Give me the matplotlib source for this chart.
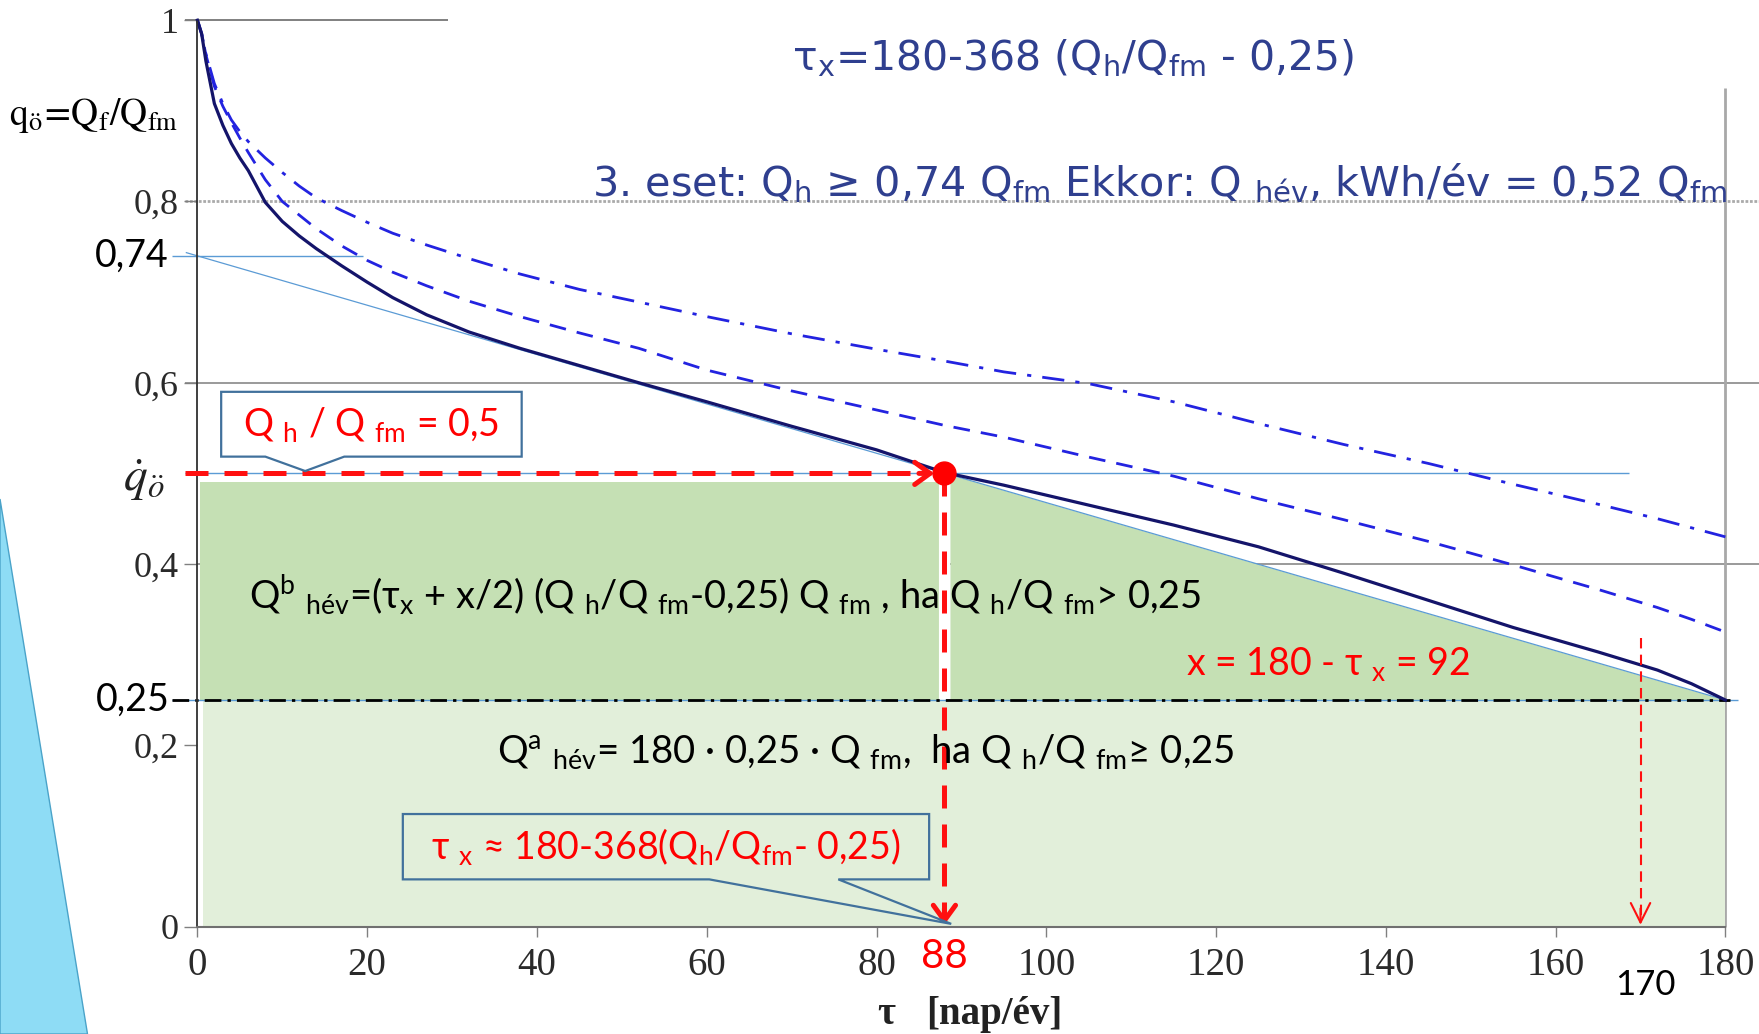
import numpy as np
import matplotlib
matplotlib.use("Agg")
import matplotlib.pyplot as plt
from matplotlib.patches import Polygon

# ---------------- data ----------------
tau = [0, 0.5, 1, 2, 3, 4, 5, 6, 8, 10, 12, 14, 17, 20, 23, 27, 32, 38, 45, 52,
       60, 70, 80, 88, 95, 105, 115, 125, 135, 145, 155, 165, 172, 176, 180]
q_solid = [1.0, 0.985, 0.955, 0.908, 0.884, 0.864, 0.848, 0.834, 0.799, 0.778,
           0.762, 0.748, 0.729, 0.711, 0.694, 0.675, 0.656, 0.638, 0.619, 0.600,
           0.579, 0.552, 0.526, 0.501, 0.487, 0.465, 0.443, 0.419, 0.390, 0.360,
           0.330, 0.303, 0.283, 0.268, 0.25]
q_dashed = [1.0, 0.985, 0.962, 0.927, 0.905, 0.887, 0.870, 0.854, 0.824, 0.800,
            0.785, 0.770, 0.751, 0.735, 0.722, 0.707, 0.690, 0.673, 0.655, 0.638,
            0.614, 0.591, 0.570, 0.553, 0.540, 0.518, 0.497, 0.472, 0.449, 0.425,
            0.399, 0.372, 0.352, 0.339, 0.325]
q_dashdot = [1.0, 0.985, 0.963, 0.930, 0.908, 0.890, 0.877, 0.866, 0.848, 0.832,
             0.817, 0.804, 0.790, 0.777, 0.765, 0.752, 0.737, 0.720, 0.703, 0.689,
             0.673, 0.654, 0.637, 0.624, 0.612, 0.599, 0.579, 0.555, 0.532, 0.511,
             0.488, 0.466, 0.450, 0.440, 0.430]

y_ticks = [0, 0.2, 0.4, 0.6, 0.8, 1.0]
y_tick_labels = ['0', '0,2', '0,4', '0,6', '0,8', '1']
x_ticks = [0, 20, 40, 60, 80, 100, 120, 140, 160, 180]
x_tick_labels = ['0', '20', '40', '60', '80', '100', '120', '140', '160', '180']

qh_ratio = 0.5      # Q_h / Q_fm
tau_x = 88          # tau_x
tau_max = 180
q_base = 0.25
q_start = 0.74
tau_mark = 170

# ---------------- style ----------------
plt.rcParams['mathtext.fontset'] = 'custom'
plt.rcParams['mathtext.rm'] = 'Lato'
plt.rcParams['mathtext.it'] = 'Lato:italic'
plt.rcParams['mathtext.bf'] = 'Lato:bold'

W, H = 1759, 1034
fig = plt.figure(figsize=(W / 100, H / 100), dpi=100)
fig.patch.set_facecolor('white')
ax = fig.add_axes([0, 0, 1, 1])
X0PX, X180PX = 197.4, 1725.4
Y0PX, Y1PX = 926.6, 20.2
sx = (X180PX - X0PX) / 180.0
sy = (Y0PX - Y1PX) / 1.0
ax.set_xlim(-X0PX / sx, (W - X0PX) / sx)
ax.set_ylim(-(H - Y0PX) / sy, Y0PX / sy)
ax.set_facecolor('white')

x_right = (W - X0PX) / sx

for s in ['top', 'right']:
    ax.spines[s].set_visible(False)
ax.spines['left'].set_position(('data', 0))
ax.spines['left'].set_bounds(0, 1)
ax.spines['left'].set_linestyle((0, (1.5, 1)))
ax.spines['left'].set_color('#303030')
ax.spines['left'].set_linewidth(1.3)
ax.spines['left'].set_zorder(4)
ax.spines['bottom'].set_position(('data', 0))
ax.spines['bottom'].set_bounds(0, 180)
ax.spines['bottom'].set_color('#707070')
ax.spines['bottom'].set_linewidth(1.5)
ax.spines['bottom'].set_zorder(4)

ax.set_yticks(y_ticks, y_tick_labels)
ax.set_xticks(x_ticks, x_tick_labels)
ax.tick_params(axis='y', direction='out', length=9.5, width=1, color='#808080',
               pad=4, labelsize=26, labelcolor='#2a2a2a',
               labelfontfamily='Liberation Serif')
ax.tick_params(axis='x', direction='out', length=7, width=1, color='#808080',
               pad=8, labelsize=28, labelcolor='#2a2a2a',
               labelfontfamily='Liberation Serif')

# grid-like lines
ax.hlines(1.0, -1.5, 29.5, color='#808080', lw=1.4, zorder=0.5)
ax.hlines(0.8, -1.5, x_right, color='#aaaaaa', lw=2.0, ls=(0, (1, 0.6)), zorder=0.5)
ax.hlines(0.6, -1.5, x_right, color='#9a9a9a', lw=1.4, zorder=0.5)
ax.hlines(0.4, 0, x_right, color='#9a9a9a', lw=1.4, zorder=0.5)
ax.vlines(tau_max, 0, 0.925, color='#a8a8a8', lw=2.0, zorder=0.5)

# green areas
ax.fill_between([0.7, tau_max], 0, q_base, color='#e2efda', lw=0, zorder=1)
ax.fill_between([0.3, tau_x - 0.65], q_base, 0.49, color='#c5e0b4', lw=0, zorder=1)
tl = np.array([tau_x + 0.65, tau_max])
tangent = q_start + (q_base - q_start) * tl / tau_max
ax.fill_between(tl, q_base, tangent, color='#c5e0b4', lw=0, zorder=1)

# thin light-blue helper lines
lb = '#5b9bd5'
ax.hlines(q_start, -3.0, 19.5, color=lb, lw=1.0, zorder=2)
ax.plot([-1.3, tau_max], [q_start + (q_base - q_start) * (-1.3) / tau_max, q_base],
        color=lb, lw=0.9, zorder=2)
ax.hlines(qh_ratio, -1.5, 168.6, color=lb, lw=1.0, zorder=2)
ax.hlines(q_base, -3.0, 181.5, color=lb, lw=1.0, zorder=2)
ax.hlines(q_base, -3.0, 180.5, color='black', lw=2.0,
          linestyles=[(0, (6, 2.2, 1.2, 2.2))], zorder=2.2)

# curves
ax.plot(tau, q_dashdot, color='#2323e0', lw=2.0, dashes=(8, 4, 1.5, 4), zorder=3)
ax.plot(tau, q_dashed, color='#2323e0', lw=2.0, dashes=(6, 4), zorder=3)
ax.plot(tau, q_solid, color='#14146a', lw=2.3, zorder=3.2)

# red construction lines
ax.vlines(tau_x, q_base, 0.495, color='white', lw=8, zorder=1.5)
ax.plot([-1.45, 85.5], [qh_ratio, qh_ratio], color='#ff1010', lw=3.6,
        dashes=(4.6, 3.2), zorder=5)
ax.annotate('', xy=(86.8, qh_ratio), xytext=(85.0, qh_ratio),
            arrowprops=dict(arrowstyle='->,head_length=0.55,head_width=0.4',
                            color='#ff1010', lw=3.6, shrinkA=0, shrinkB=0,
                            mutation_scale=20), zorder=5)
ax.plot([tau_x, tau_x], [qh_ratio, 0.012], color='#ff1010', lw=3.6,
        dashes=(4.6, 3.2), zorder=5)
ax.annotate('', xy=(tau_x, 0.002), xytext=(tau_x, 0.02),
            arrowprops=dict(arrowstyle='->,head_length=0.55,head_width=0.4',
                            color='#ff1010', lw=3.6, shrinkA=0, shrinkB=0,
                            mutation_scale=20), zorder=5)
ax.plot([tau_x], [qh_ratio], 'o', color='#ff0000', ms=16.5, zorder=6)

ax.plot([tau_mark, tau_mark], [0.318, 0.01], color='#ff1010', lw=1.5,
        dashes=(5, 3), zorder=5)
ax.annotate('', xy=(tau_mark, 0.002), xytext=(tau_mark, 0.02),
            arrowprops=dict(arrowstyle='->,head_length=0.7,head_width=0.35',
                            color='#ff1010', lw=1.5, shrinkA=0, shrinkB=0,
                            mutation_scale=20), zorder=5)

# callout boxes
box_ec = '#41719c'
box1 = Polygon([(2.8, 0.5185), (8.0, 0.5185), (12.7, 0.5026), (17.3, 0.5185),
                (38.2, 0.5185), (38.2, 0.590), (2.8, 0.590)], closed=True,
               facecolor='white', edgecolor=box_ec, lw=1.6, zorder=6)
ax.add_patch(box1)
box2 = Polygon([(24.2, 0.0521), (60.3, 0.0521), (88.8, 0.003), (75.5, 0.0521),
                (86.2, 0.0521), (86.2, 0.1242), (24.2, 0.1242)], closed=True,
               facecolor='none', edgecolor=box_ec, lw=1.6, zorder=6)
ax.add_patch(box2)

# left decorative wedge
wedge = Polygon([(0, 1 - 499 / H), (87.5 / W, 0), (0, 0)], closed=True,
                transform=fig.transFigure, facecolor='#8edcf5',
                edgecolor='#4aa3c9', lw=1.0, clip_on=False, zorder=7)
ax.add_patch(wedge)

# ---------------- texts ----------------
sans = ['Lato', 'DejaVu Sans']
navy = '#2f3f8f'
red = '#ff0000'

ax.text(-22.2, 0.895, r'$\mathrm{q_{ö}\!=\!Q_{f}/Q_{fm}}$', math_fontfamily='stix',
        fontsize=27, ha='left', va='center', color='black', zorder=8)
ax.text(-6.3, 0.493, r'$\dot{q}_{\ddot{o}}$', math_fontfamily='stix', fontsize=34,
        ha='center', va='center', color='#222222', zorder=8)
ax.text(-3.4, q_start, '0,74', family=sans, fontsize=27, ha='right', va='center',
        color='black', zorder=8)
ax.text(-3.2, q_base, '0,25', family=sans, fontsize=27, ha='right', va='center',
        color='black', zorder=8)

ax.text(70.0, 0.945,
        'τ$_{\\mathrm{x}}$=180-368 (Q$_{\\mathrm{h}}$/Q$_{\\mathrm{fm}}$ - 0,25)',
        family='DejaVu Sans', math_fontfamily='dejavusans', fontsize=29.5,
        color=navy, ha='left', va='baseline', zorder=8)
ax.text(46.5, 0.807,
        '3. eset: Q$_{\\mathrm{h}}$ ≥ 0,74 Q$_{\\mathrm{fm}}$ Ekkor: Q $_{\\mathrm{hév}}$, '
        'kWh/év = 0,52 Q$_{\\mathrm{fm}}$',
        family='DejaVu Sans', math_fontfamily='dejavusans', fontsize=29.8,
        color=navy, ha='left', va='baseline', zorder=8)

ax.text(20.5, 0.5545, 'Q $_{\\mathrm{h}}$ / Q $_{\\mathrm{fm}}$ = 0,5', family=sans,
        fontsize=27, color=red, ha='center', va='center', zorder=8)
ax.text(55.2, 0.088,
        'τ $_{\\mathrm{x}}$ ≈ 180-368(Q$_{\\mathrm{h}}$/Q$_{\\mathrm{fm}}$- 0,25)',
        family=sans, fontsize=27, color=red, ha='center', va='center', zorder=8)
ax.text(6.1, 0.3665,
        'Q$^{\\mathrm{b}}$ $_{\\mathrm{hév}}$=(τ$_{\\mathrm{x}}$ + x/2) '
        '(Q $_{\\mathrm{h}}$/Q $_{\\mathrm{fm}}$-0,25) Q $_{\\mathrm{fm}}$ , '
        'ha Q $_{\\mathrm{h}}$/Q $_{\\mathrm{fm}}$> 0,25',
        family=sans, fontsize=27.4, color='black', ha='left', va='center', zorder=8)
ax.text(35.3, 0.193,
        'Q$^{\\mathrm{a}}$ $_{\\mathrm{hév}}$= 180 · 0,25 · Q $_{\\mathrm{fm}}$,  '
        'ha Q $_{\\mathrm{h}}$/Q $_{\\mathrm{fm}}$≥ 0,25',
        family=sans, fontsize=27.5, color='black', ha='left', va='center', zorder=8)
ax.text(116.5, 0.2897, 'x = 180 - τ $_{\\mathrm{x}}$ = 92', family=sans, fontsize=27,
        color=red, ha='left', va='center', zorder=8)

ax.text(tau_x, -0.0335, '88', family=sans, fontsize=29, color=red, ha='center',
        va='center', zorder=8)
ax.text(170.6, -0.0643, '170', family=sans, fontsize=25, color='black',
        ha='center', va='center', zorder=8)
ax.text(81.1, -0.0975, 'τ', family='Liberation Serif', fontsize=28,
        fontweight='bold', color='#222222', ha='center', va='center', zorder=8)
ax.text(85.9, -0.0975, '[nap/év]', family='Liberation Serif', fontsize=28,
        fontweight='bold', color='#222222', ha='left', va='center', zorder=8)

fig.savefig('out.png', dpi=100)
